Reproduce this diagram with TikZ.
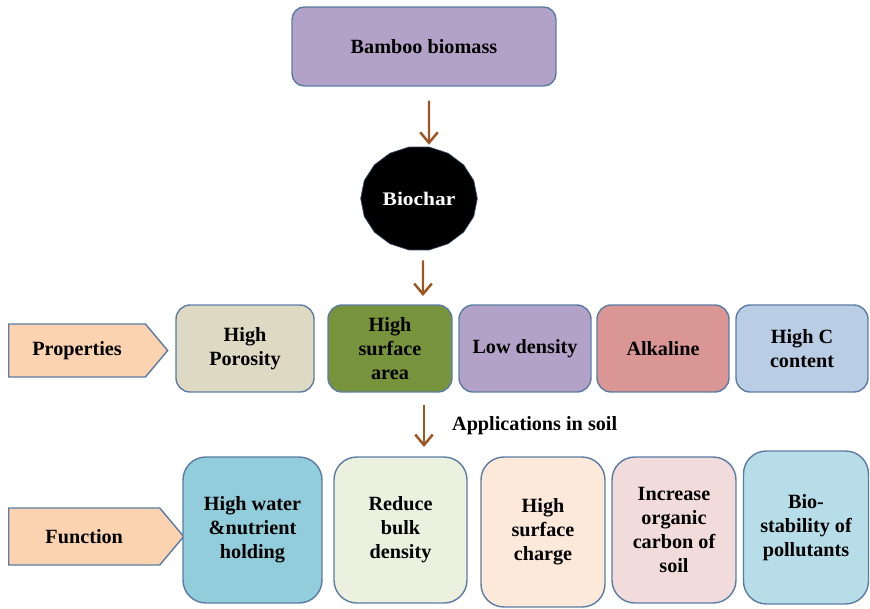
\documentclass[tikz,border=0pt]{standalone}
\usepackage{fontspec}
\setmainfont{Liberation Serif}
\usepackage{xcolor}
\usepackage{tikz}
\usetikzlibrary{shapes.geometric, shapes.symbols, arrows.meta, positioning, calc}
\definecolor{edgeblue}{HTML}{5B7BA3}
\definecolor{arrbrown}{HTML}{9E5522}
\definecolor{lilac}{HTML}{B3A2C7}
\definecolor{stone}{HTML}{DDD9C3}
\definecolor{olive}{HTML}{77933C}
\definecolor{rose}{HTML}{D99694}
\definecolor{skyblue}{HTML}{B9CDE5}
\definecolor{peach}{HTML}{FBD3B0}
\definecolor{aqua}{HTML}{92CDDC}
\definecolor{cream}{HTML}{EBF1DE}
\definecolor{apricot}{HTML}{FDE9D9}
\definecolor{blush}{HTML}{F2DCDB}
\definecolor{paleaqua}{HTML}{B7DEE8}
\newcommand{\labfont}{\bfseries\fontsize{11.5}{13.6}\selectfont}
\tikzset{
  box/.style  = {draw=edgeblue, line width=0.8pt, rounded corners=8pt,
                 align=center, inner sep=2pt, font=\labfont},
  fbox/.style = {box, rounded corners=13pt},
  tag/.style  = {signal, signal to=east, signal pointer angle=100, draw=edgeblue,
                 line width=0.8pt, fill=peach, anchor=west, font=\labfont},
  arr/.style  = {-{Straight Barb[length=6pt,width=10pt,line width=1.4pt]},
                 line width=1.4pt, draw=arrbrown},
}

\begin{document}
\begin{tikzpicture}[x=0.02cm, y=-0.02cm]
  \useasboundingbox (0,0) rectangle (870,609);

  % Source
  \node[box, fill=lilac, minimum width=5.28cm, minimum height=1.58cm,
        rounded corners=7pt]
        (bamboo) at (424,46.5) {Bamboo biomass};

  % Biochar
  \node[regular polygon, regular polygon sides=18, fill=black, draw=edgeblue!60!black,
        minimum size=2.2cm, xscale=1.06, yscale=0.95, inner sep=0pt,
        text=white, font=\labfont]
        (char) at (419,198.5) {Biochar};

  % Properties row
  \node[tag, minimum width=3.18cm, minimum height=1.06cm]
        (props) at (8,350.5) {Properties};
  \node[box, fill=stone, minimum width=2.76cm, minimum height=1.74cm]
        (poro) at (245,348.5) {High\\Porosity};
  \node[box, fill=olive, minimum width=2.48cm, minimum height=1.74cm]
        (surf) at (390,348.5) {High\\surface\\area};
  \node[box, fill=lilac, minimum width=2.64cm, minimum height=1.74cm]
        (dens) at (525,348.5) {Low density};
  \node[box, fill=rose, minimum width=2.64cm, minimum height=1.74cm]
        (alka) at (663,348.5) {Alkaline};
  \node[box, fill=skyblue, minimum width=2.64cm, minimum height=1.74cm]
        (hic) at (802,348.5) {High C\\content};

  % Function row
  \node[tag, minimum width=3.5cm, minimum height=1.14cm]
        (func) at (8,536.5) {Function};
  \node[fbox, fill=aqua, minimum width=2.78cm, minimum height=2.92cm]
        (water) at (252.5,530) {High water\\\&nutrient\\holding};
  \node[fbox, fill=cream, minimum width=2.66cm, minimum height=2.92cm]
        (bulk) at (400.5,530) {Reduce\\bulk\\density};
  \node[fbox, fill=apricot, minimum width=2.48cm, minimum height=3.0cm]
        (charge) at (543,532) {High\\surface\\charge};
  \node[fbox, fill=blush, minimum width=2.48cm, minimum height=2.92cm]
        (carb) at (674,530) {Increase\\organic\\carbon of\\soil};
  \node[fbox, fill=paleaqua, minimum width=2.5cm, minimum height=3.06cm]
        (stab) at (806,527.5) {Bio-\\stability of\\pollutants};

  % Arrows
  \coordinate (a2end) at (423,296);
  \coordinate (a3top) at (424,405);
  \coordinate (a3end) at (424,447);
  \draw[arr] ($(bamboo.south)+(5,14)$) -- ($(char.north)+(10,-2)$);
  \draw[arr] ($(char.south)+(4,10)$) -- (a2end);
  \draw[arr] (a3top) -- (a3end)
        node[midway, right=12pt, font=\labfont]
        {Applications in soil};
\end{tikzpicture}
\end{document}
